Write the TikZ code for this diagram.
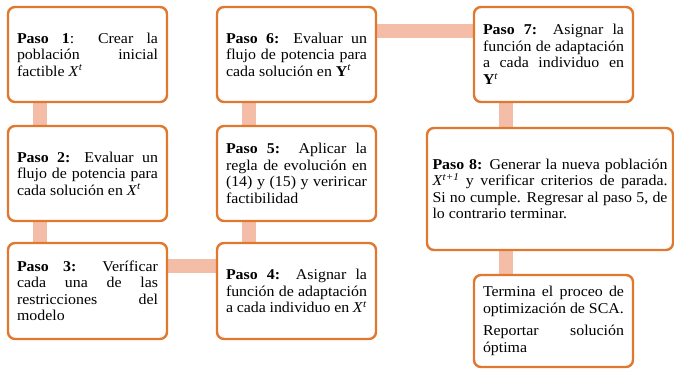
\documentclass[tikz,border=0pt]{standalone}
\usepackage{fontspec}
\setmainfont{Liberation Serif}[FakeStretch=1.06]
\usetikzlibrary{backgrounds}
\definecolor{boxc}{HTML}{E0782F}
\definecolor{connc}{HTML}{F4BDA7}
\newcommand{\Xt}{\textit{X}\textsuperscript{\textit{t}}}
\newcommand{\Yt}{\textbf{Y}\textsuperscript{\textit{t}}}
\newcommand{\boxfont}{\fontsize{15}{16.5}\selectfont\hyphenpenalty=10000\relax\tolerance=9999\relax}
\begin{document}
\begin{tikzpicture}[x=1pt,y=-1pt,
  box/.style={draw=boxc, line width=2.4pt, rounded corners=7pt, fill=white,
    inner xsep=9pt, inner ysep=0pt, align=justify, text width=141pt,
    minimum width=159pt, minimum height=95pt, font=\boxfont},
  conn/.style={draw=connc, line width=14pt}]
\useasboundingbox (0,0) rectangle (674,368);

\node[box] (b1) at (87.5,54.5) {\textbf{Paso 1}: Crear la\linebreak población inicial\linebreak factible \Xt};
\node[box] (b2) at (87.5,173.5) {\textbf{Paso 2:} Evaluar un\linebreak flujo de potencia para\linebreak cada solución en \Xt};
\node[box, minimum height=96pt] (b3) at (87.5,291) {\textbf{Paso 3:} Veríficar\linebreak cada una de las\linebreak restricciones del\linebreak modelo};
\node[box] (b6) at (296.5,54.5) {\textbf{Paso 6:} Evaluar un\linebreak flujo de potencia para\linebreak cada solución en \Yt};
\node[box] (b5) at (296.5,173.5) {\textbf{Paso 5:}\ \ Aplicar la\linebreak regla de evolución en\linebreak (14) y (15) y veriricar\linebreak factibilidad};
\node[box, minimum height=96pt] (b4) at (296.5,291) {\textbf{Paso 4:} Asignar la\linebreak función de adaptación\linebreak a cada individuo en \Xt};
\node[box] (b7) at (553.5,54.5) {\textbf{Paso 7:} Asignar la\linebreak función de adaptación\linebreak a cada individuo en\linebreak \Yt};
\node[box, minimum width=246pt, minimum height=122pt, text width=235pt, inner xsep=5.5pt] (b8) at (550,189) {\textbf{Paso 8:} Generar la nueva población\linebreak \textit{X}\textsuperscript{\textit{t+1}} y verificar criterios de parada.\linebreak Si no cumple. Regresar al paso 5, de\linebreak lo contrario terminar.};
\node[box, minimum height=92pt] (b9) at (553.5,321) {Termina el proceo de\linebreak optimización de SCA.\par\vspace{6pt}Reportar solución\linebreak óptima};

\begin{scope}[on background layer]
\draw[conn] ([xshift=33.5pt]b1.south west) -- ([xshift=33.5pt]b2.north west);
\draw[conn] ([xshift=33.5pt]b2.south west) -- ([xshift=33.5pt]b3.north west);
\draw[conn] ([yshift=-24.5pt]b3.north east) -- ([yshift=-24.5pt]b4.north west);
\draw[conn] ([xshift=33pt]b6.south west) -- ([xshift=33pt]b5.north west);
\draw[conn] ([xshift=33pt]b5.south west) -- ([xshift=33pt]b4.north west);
\draw[conn] ([yshift=-25.5pt]b6.north east) -- ([yshift=-25.5pt]b7.north west);
\draw[conn] ([xshift=33.5pt]b7.south west) -- ([xshift=33.5pt]b7.south west |- b8.north);
\draw[conn] ([xshift=33.5pt]b9.north west |- b8.south) -- ([xshift=33.5pt]b9.north west);
\end{scope}
\end{tikzpicture}
\end{document}
